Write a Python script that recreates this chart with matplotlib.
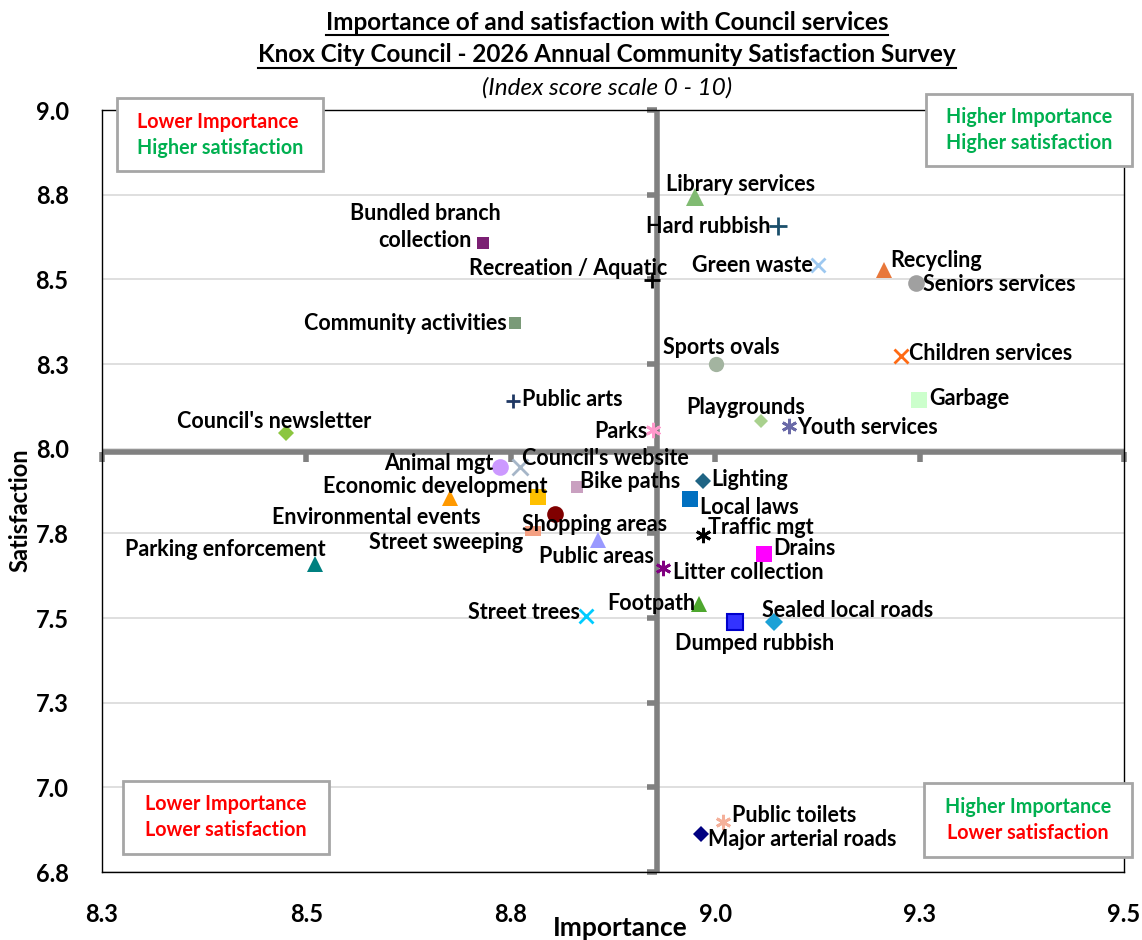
import matplotlib
matplotlib.use("Agg")
import matplotlib.pyplot as plt
from matplotlib.lines import Line2D
from matplotlib.patches import Rectangle
from matplotlib.markers import TICKDOWN, TICKLEFT

plt.rcParams['font.family'] = ['Lato', 'DejaVu Sans']

# ---------------- data ----------------
services = ["Library services", "Hard rubbish", "Bundled branch\ncollection", "Recreation / Aquatic",
            "Green waste", "Recycling", "Seniors services", "Community activities", "Sports ovals",
            "Children services", "Garbage", "Public arts", "Playgrounds", "Youth services", "Parks",
            "Council's newsletter", "Animal mgt", "Council's website", "Lighting", "Bike paths",
            "Economic development", "Environmental events", "Shopping areas", "Street sweeping",
            "Public areas", "Local laws", "Traffic mgt", "Drains", "Parking enforcement",
            "Litter collection", "Footpath", "Street trees", "Dumped rubbish", "Sealed local roads",
            "Public toilets", "Major arterial roads"]
importance = [8.975, 9.077, 8.716, 8.923,
              9.126, 9.206, 9.246, 8.755, 9.001,
              9.227, 9.249, 8.753, 9.056, 9.090, 8.924,
              8.475, 8.737, 8.761, 8.985, 8.831,
              8.783, 8.676, 8.804, 8.777,
              8.857, 8.969, 8.985, 9.060, 8.511,
              8.936, 8.980, 8.842, 9.024, 9.072,
              9.010, 8.983]
satisfaction = [8.743, 8.658, 8.607, 8.498,
                8.542, 8.528, 8.489, 8.371, 8.250,
                8.274, 8.144, 8.141, 8.082, 8.067, 8.055,
                8.046, 7.946, 7.946, 7.905, 7.887,
                7.857, 7.854, 7.807, 7.757,
                7.730, 7.851, 7.745, 7.689, 7.660,
                7.648, 7.542, 7.506, 7.488, 7.488,
                6.898, 6.862]
avg_importance = 8.929
avg_satisfaction = 7.99

x_ticks = [8.25, 8.5, 8.75, 9.0, 9.25, 9.5]
x_tick_labels = ["8.3", "8.5", "8.8", "9.0", "9.3", "9.5"]
y_ticks = [6.75, 7.0, 7.25, 7.5, 7.75, 8.0, 8.25, 8.5, 8.75, 9.0]
y_tick_labels = ["6.8", "7.0", "7.3", "7.5", "7.8", "8.0", "8.3", "8.5", "8.8", "9.0"]

title1 = "Importance of and satisfaction with Council services"
title2 = "Knox City Council - 2026 Annual Community Satisfaction Survey"
subtitle = "(Index score scale 0 - 10)"

# ---------------- styles ----------------
RECT = [(-1, -0.55), (1, -0.55), (1, 0.55), (-1, 0.55), (-1, -0.55)]
AST = (6, 2, 0)
styles = [  # marker, face colour, size, edge width
    ('^', '#80bb72', 13, 0), ('+', '#1b4f6b', 13, 2.0), ('s', '#7b2073', 9, 0), ('+', '#000000', 12, 2.0),
    ('x', '#9dc8f0', 10, 2.0), ('^', '#e8773a', 12, 0), ('o', '#a0a0a0', 12, 0), ('s', '#7a9a78', 9, 0),
    ('o', '#a3b4a0', 11, 0), ('x', '#ff6a13', 10, 2.0), ('s', '#ccffcc', 12, 0), ('+', '#1f3864', 10, 2.0),
    ('D', '#a9d18e', 7, 0), (AST, '#6a6aa8', 11, 2.0), (AST, '#ff99cc', 11, 2.0),
    ('D', '#8cc63f', 8, 0), ('o', '#cc99ff', 12, 0), ('x', '#a6b6c8', 11, 2.0), ('D', '#1f6484', 8, 0),
    ('s', '#c9a0c0', 9, 0), ('s', '#ffc000', 11, 0), ('^', '#ff9900', 12, 0), ('o', '#800000', 12, 0),
    (RECT, '#f4a082', 12, 0), ('^', '#9999ff', 12, 0), ('s', '#0070c0', 12, 0), (AST, '#000000', 11, 2.0),
    ('s', '#ff00ff', 11, 0), ('^', '#008080', 12, 0), (AST, '#800080', 11, 2.0), ('^', '#4ea72e', 12, 0),
    ('x', '#00ccff', 10, 2.0), ('s', '#3333ff', 11, 1.5), ('D', '#1ba1d6', 9, 0), (AST, '#f4b09a', 11, 2.0),
    ('D', '#000080', 8, 0),
]
# label placement: (ha, dx px, dy px downward)
label_pos = [
    ('left', -29, -13), ('right', -8, 1), ('center', -58, -16), ('right', 15, -12),
    ('right', -5, 0), ('left', 7, -9), ('left', 7, 1), ('right', -8, 0), ('left', -53, -17),
    ('left', 8, -2), ('left', 10, -1), ('left', 9, -1), ('left', -75, -13), ('left', 8, 2), ('right', -6, 1),
    ('left', -109, -12), ('right', -7, -3), ('left', 2, -8), ('left', 8, -1), ('left', 3, -5),
    ('right', 10, -11), ('right', 30, 19), ('left', -33, 10), ('right', -10, 12),
    ('right', 56, 16), ('left', 10, 8), ('left', 5, -8), ('left', 9, -5), ('right', 10, -14),
    ('left', 10, 5), ('right', -3, 0), ('right', -6, -3), ('left', -60, 21), ('left', -12, -12),
    ('left', 9, -6), ('left', 7, 5),
]

W, H = 1142, 940
fig = plt.figure(figsize=(W / 100, H / 100), dpi=100)
ax = fig.add_axes([102 / W, 1 - 872 / H, (1124 - 102) / W, (872 - 110) / H])

ax.set_xlim(x_ticks[0], x_ticks[-1])
ax.set_ylim(y_ticks[0], y_ticks[-1])
ax.set_xticks(x_ticks)
ax.set_xticklabels(x_tick_labels)
ax.set_yticks(y_ticks)
ax.set_yticklabels(y_tick_labels)
ax.tick_params(length=0, labelsize=17)
ax.tick_params(axis='y', pad=24)
ax.tick_params(axis='x', pad=22)
for t in ax.get_xticklabels() + ax.get_yticklabels():
    t.set_fontweight('bold')
for s in ax.spines.values():
    s.set_color('black')
    s.set_linewidth(1.0)
ax.yaxis.grid(True, color='#d9d9d9', linewidth=1.2)
ax.set_axisbelow(True)

# crosshair axes at averages
ax.axvline(avg_importance, color='#808080', linewidth=4, zorder=2)
ax.axhline(avg_satisfaction, color='#808080', linewidth=4, zorder=2)
ax.plot(x_ticks, [avg_satisfaction] * len(x_ticks), linestyle='none',
        marker=TICKDOWN, markersize=7, markeredgewidth=4, color='#808080', zorder=2, clip_on=False)
ax.plot([avg_importance] * len(y_ticks), y_ticks, linestyle='none',
        marker=TICKLEFT, markersize=7, markeredgewidth=4, color='#808080', zorder=2, clip_on=False)

for name, xi, yi, st, lp in zip(services, importance, satisfaction, styles, label_pos):
    m, c, ms, ew = st
    if m in ('+', 'x') or m == AST:
        ax.plot([xi], [yi], linestyle='none', marker=m, markersize=ms, color=c,
                markeredgewidth=ew, zorder=4)
    else:
        ec = '#0000cc' if ew > 0 else c
        ax.plot([xi], [yi], linestyle='none', marker=m, markersize=ms, markerfacecolor=c,
                markeredgecolor=ec, markeredgewidth=ew, zorder=4)
    ha, dx, dy = lp
    ax.annotate(name, (xi, yi), xytext=(dx, -dy), textcoords='offset pixels',
                ha=ha, va='center', fontsize=15.5, fontweight='bold', color='black',
                multialignment='center', linespacing=1.35, zorder=5)

# quadrant boxes (figure pixel coordinates)
def qbox(x0, y0, x1, y1, lines, colors, align='center', tx=None):
    fig.patches.append(Rectangle((x0 / W, 1 - y1 / H), (x1 - x0) / W, (y1 - y0) / H,
                                 transform=fig.transFigure, facecolor='white',
                                 edgecolor='#a6a6a6', linewidth=2, zorder=10))
    ym = (y0 + y1) / 2
    for i, (txt, col) in enumerate(zip(lines, colors)):
        yy = ym + (i - 0.5) * 26
        xx = (x0 + x1) / 2 if tx is None else tx
        fig.text(xx / W, 1 - yy / H, txt, ha=align, va='center', color=col,
                 fontsize=14.2, fontweight='bold', zorder=11)

RED, GREEN = '#ff0000', '#00b050'
qbox(117, 98, 323, 171, ["Lower Importance", "Higher satisfaction"], [RED, GREEN], 'left', 137)
qbox(926, 94, 1132, 166, ["Higher Importance", "Higher satisfaction"], [GREEN, GREEN])
qbox(123, 781, 329, 854, ["Lower Importance", "Lower satisfaction"], [RED, RED])
qbox(924, 783, 1132, 857, ["Higher Importance", "Lower satisfaction"], [GREEN, RED])

# titles
cx = 607 / W
t1 = fig.text(cx, 1 - 22 / H, title1, ha='center', va='center', fontsize=17.5, fontweight='bold')
t2 = fig.text(cx, 1 - 55 / H, title2, ha='center', va='center', fontsize=17.5, fontweight='bold')
fig.text(cx, 1 - 88 / H, subtitle, ha='center', va='center', fontsize=17.5, style='italic')

fig.text(620 / W, 1 - 928 / H, "Importance", ha='center', va='center', fontsize=19, fontweight='bold')
fig.text(20 / W, 1 - 510 / H, "Satisfaction", ha='center', va='center', fontsize=17,
         fontweight='bold', rotation=90)

fig.canvas.draw()
r = fig.canvas.get_renderer()
for t in (t1, t2):
    bb = t.get_window_extent(r)
    yline = bb.y0 - 1
    fig.add_artist(Line2D([bb.x0 / W, bb.x1 / W], [yline / H, yline / H],
                          transform=fig.transFigure, color='black', linewidth=1.5))

fig.savefig("out.png", dpi=100)
